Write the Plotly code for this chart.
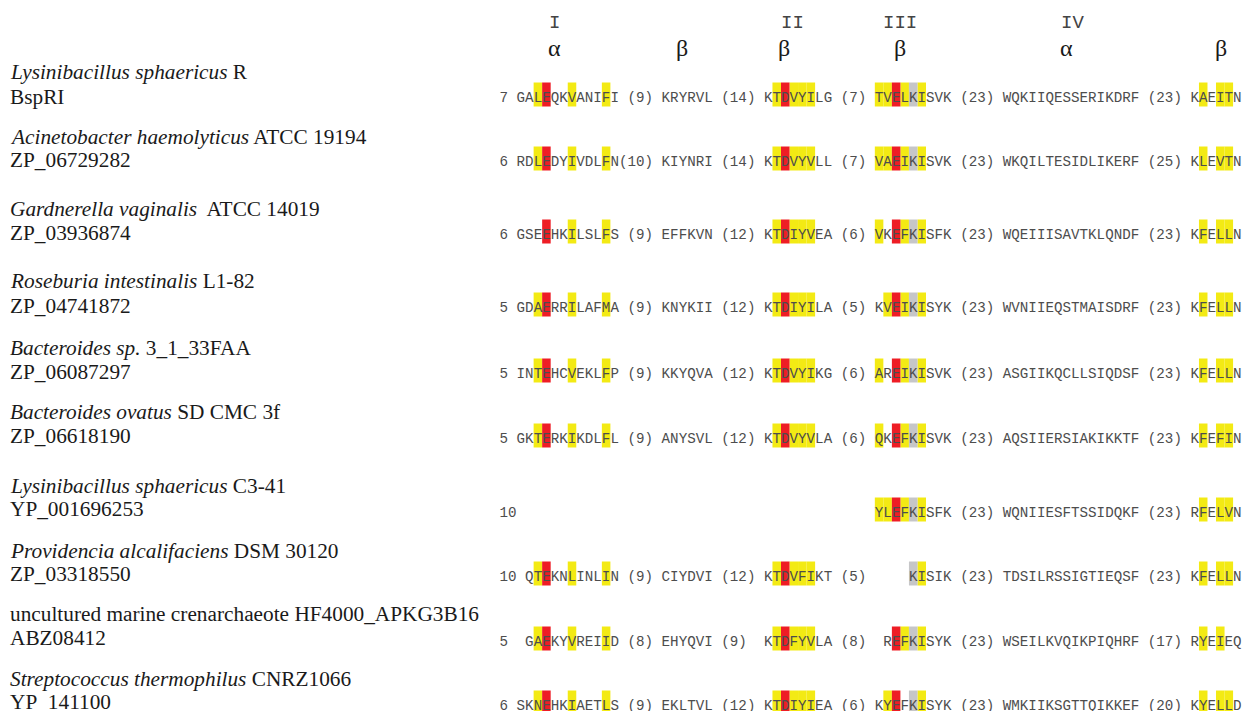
import plotly.graph_objects as go

# ---------------- data ----------------
species = [
    "<i>Lysinibacillus sphaericus</i> R",
    "<i>Acinetobacter haemolyticus</i> ATCC 19194",
    "<i>Gardnerella vaginalis</i>  ATCC 14019",
    "<i>Roseburia intestinalis</i> L1-82",
    "<i>Bacteroides sp.</i> 3_1_33FAA",
    "<i>Bacteroides ovatus</i> SD CMC 3f",
    "<i>Lysinibacillus sphaericus</i> C3-41",
    "<i>Providencia alcalifaciens</i> DSM 30120",
    "uncultured marine crenarchaeote HF4000_APKG3B16",
    "<i>Streptococcus thermophilus</i> CNRZ1066",
]
accessions = [
    "BspRI", "ZP_06729282", "ZP_03936874", "ZP_04741872", "ZP_06087297",
    "ZP_06618190", "YP_001696253", "ZP_03318550", "ABZ08412", "YP_141100",
]
sequences = [
    "7 GALEQKVANIFI (9) KRYRVL (14) KTDVYILG (7) TVELKISVK (23) WQKIIQESSERIKDRF (23) KAEITN",
    "6 RDLEDYIVDLFN(10) KIYNRI (14) KTDVYVLL (7) VAEIKISVK (23) WKQILTESIDLIKERF (25) KLEVTN",
    "6 GSEEHKILSLFS (9) EFFKVN (12) KTDIYVEA (6) VKEFKISFK (23) WQEIIISAVTKLQNDF (23) KFELLN",
    "5 GDAERRILAFMA (9) KNYKII (12) KTDIYILA (5) KVEIKISYK (23) WVNIIEQSTMAISDRF (23) KFELLN",
    "5 INTEHCVEKLFP (9) KKYQVA (12) KTDVYIKG (6) AREIKISVK (23) ASGIIKQCLLSIQDSF (23) KFELLN",
    "5 GKTERKIKDLFL (9) ANYSVL (12) KTDVYVLA (6) QKEFKISVK (23) AQSIIERSIAKIKKTF (23) KFEFIN",
    "10" + " " * 42 + "YLEFKISFK (23) WQNIIESFTSSIDQKF (23) RFELVN",
    "10 QTEKNLINLIN (9) CIYDVI (12) KTDVFIKT (5)     KISIK (23) TDSILRSSIGTIEQSF (23) KFELLN",
    "5  GAEKYVREIID (8) EHYQVI (9)  KTDFYVLA (8)  REFKISYK (23) WSEILKVQIKPIQHRF (17) RYEIEQ",
    "6 SKNEHKIAETLS (9) EKLTVL (12) KTDIYIEA (6) KYEFKISYK (23) WMKIIKSGTTQIKKEF (20) KYELLD",
]
# highlighted alignment columns (0-based character index in each sequence line)
yellow_cols = [
    [4, 8, 12, 32, 34, 35, 36, 44, 45, 47, 49, 82, 84, 85],
    [4, 8, 12, 32, 34, 35, 36, 44, 45, 47, 49, 82, 84, 85],
    [8, 12, 32, 34, 35, 36, 44, 47, 49, 82, 84, 85],
    [4, 8, 12, 32, 34, 35, 36, 45, 47, 49, 82, 84, 85],
    [4, 8, 12, 32, 34, 35, 36, 44, 47, 49, 82, 84, 85],
    [4, 8, 12, 32, 34, 35, 36, 44, 47, 49, 82, 84, 85],
    [44, 45, 47, 49, 82, 84, 85],
    [4, 8, 12, 32, 34, 35, 36, 49, 82, 84, 85],
    [4, 8, 12, 32, 34, 35, 36, 47, 49, 82, 84],
    [4, 8, 12, 32, 34, 35, 36, 45, 49, 82, 84, 85],
]
red_cols = [
    [5, 33, 46], [5, 33, 46], [5, 33, 46], [5, 33, 46], [5, 33, 46],
    [5, 33, 46], [46], [5, 33], [5, 33, 46], [5, 33, 46],
]
gray_cols = [[48]] * 10

motif_labels = ["I", "II", "III", "IV"]
motif_cols = [6.5, 34.4, 46.95, 67.2]
struct_labels = ["α", "β", "β", "β", "α", "β"]
struct_cols = [6.5, 21.4, 33.35, 47.0, 66.5, 84.6]

# ---------------- layout constants ----------------
W, H = 1244, 711
CHAR_W = 8.53          # pixel width of one alignment column
COL0_PX = 499.5        # pixel x of column 0
row_y = [98, 162, 235, 308, 374, 439, 513, 577, 642, 706]        # sequence line centres (px)
species_y = [72, 137, 209, 281, 348, 412, 486, 551, 614, 679]
acc_y = [97, 160, 233, 306, 372, 436, 509, 574, 638, 702]
BOX_UP, BOX_DOWN = 15.5, 8.5

YELLOW, RED, GRAY = "#F3EA14", "#EE1D25", "#C6C6C8"
SEQ_COLOR = "#4d4d4d"
LABEL_FONT = dict(family="Liberation Serif, Times New Roman, serif", size=21.3, color="#1a1a1a")

xmin = -COL0_PX / CHAR_W
xmax = xmin + W / CHAR_W

fig = go.Figure()

# highlight boxes
shapes = []
for r in range(len(sequences)):
    for cols, colr in ((yellow_cols[r], YELLOW), (red_cols[r], RED), (gray_cols[r], GRAY)):
        for c in cols:
            shapes.append(dict(type="rect", xref="x", yref="y", x0=c, x1=c + 1,
                               y0=row_y[r] - BOX_UP, y1=row_y[r] + BOX_DOWN,
                               fillcolor=colr, line=dict(width=0), layer="below"))

# sequence characters
xs, ys, ts = [], [], []
for r, s in enumerate(sequences):
    for i, ch in enumerate(s):
        if ch != " ":
            xs.append(i + 0.5)
            ys.append(row_y[r])
            ts.append(ch)
fig.add_trace(go.Scatter(x=xs, y=ys, text=ts, mode="text", textposition="middle center",
                         textfont=dict(family="Liberation Mono, Courier New, monospace",
                                       size=14.2, color=SEQ_COLOR),
                         hoverinfo="skip", showlegend=False))

annotations = []
for r in range(len(species)):
    annotations.append(dict(text=species[r], xref="paper", x=8 / W, xanchor="left",
                            yref="y", y=species_y[r], yanchor="middle", showarrow=False,
                            font=LABEL_FONT))
    annotations.append(dict(text=accessions[r], xref="paper", x=8 / W, xanchor="left",
                            yref="y", y=acc_y[r], yanchor="middle", showarrow=False,
                            font=LABEL_FONT))
for lab, c in zip(motif_labels, motif_cols):
    annotations.append(dict(text=lab, xref="x", x=c, yref="y", y=22.5, showarrow=False,
                            xanchor="center", yanchor="middle",
                            font=dict(family="Liberation Mono, Courier New, monospace",
                                      size=19, color="#444444")))
for lab, c in zip(struct_labels, struct_cols):
    annotations.append(dict(text=lab, xref="x", x=c, yref="y", y=48, showarrow=False,
                            xanchor="center", yanchor="middle",
                            font=dict(family="Liberation Serif, Times New Roman, serif",
                                      size=24, color="#1a1a1a")))

fig.update_layout(
    width=W, height=H, margin=dict(l=0, r=0, t=0, b=0),
    paper_bgcolor="white", plot_bgcolor="white",
    xaxis=dict(range=[xmin, xmax], visible=False, fixedrange=True),
    yaxis=dict(range=[H, 0], visible=False, fixedrange=True),
    shapes=shapes, annotations=annotations, showlegend=False,
)
fig.write_html("out.html", config={"displayModeBar": False},
               post_script="document.body.style.margin='0';document.body.style.overflow='hidden';")
